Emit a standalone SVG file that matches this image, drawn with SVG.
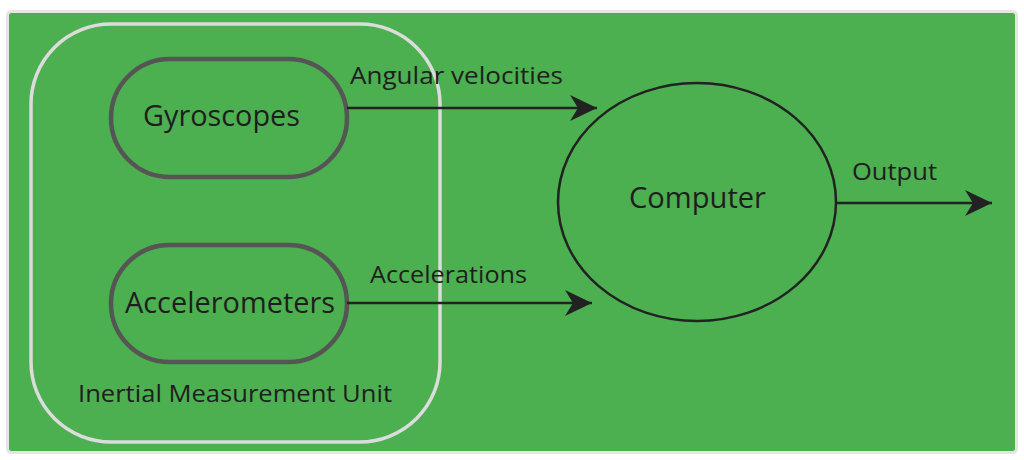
<svg xmlns="http://www.w3.org/2000/svg" width="1024" height="460" viewBox="0 0 1024 460">
  <defs>
    <marker id="stealth" viewBox="0 0 28 26" refX="27" refY="13" markerWidth="28" markerHeight="26" markerUnits="userSpaceOnUse" orient="auto">
      <path d="M27,13 L0,0 L8,13 L0,26 Z" fill="#222"/>
    </marker>
    <style>
      .txt { font-family: "Open Sans", "DejaVu Sans", sans-serif; fill: #1e1e1e; }
      .lbl { font-size: 24px; }
      .big { font-size: 29px; }
      .pill { fill: none; stroke: #555; stroke-width: 4.5; }
      .conn { stroke: #222; stroke-width: 2.5; fill: none; marker-end: url(#stealth); }
    </style>
  </defs>
  <rect x="0" y="0" width="1024" height="460" fill="#ffffff"/>
  <rect x="7.5" y="11.5" width="1009" height="441" rx="4" fill="#4caf50" stroke="#e3e6e3" stroke-width="3"/>

  <g id="imu">
    <rect x="31" y="24" width="409" height="418" rx="80" fill="none" stroke="#dcdcdc" stroke-width="3.5"/>
    <text class="txt lbl" x="78" y="402" textLength="314" lengthAdjust="spacingAndGlyphs">Inertial Measurement Unit</text>
  </g>

  <g id="gyroscopes">
    <rect x="111" y="59" width="236" height="118" rx="59" class="pill"/>
    <text class="txt big" x="143" y="126" textLength="157" lengthAdjust="spacingAndGlyphs">Gyroscopes</text>
  </g>

  <g id="accelerometers">
    <rect x="111" y="245" width="236" height="117" rx="58.5" class="pill"/>
    <text class="txt big" x="125" y="313" textLength="210" lengthAdjust="spacingAndGlyphs">Accelerometers</text>
  </g>

  <g id="computer">
    <ellipse cx="697" cy="202" rx="139" ry="119" fill="none" stroke="#222" stroke-width="2.5"/>
    <text class="txt big" x="629" y="208" textLength="137" lengthAdjust="spacingAndGlyphs">Computer</text>
  </g>

  <g id="connectors">
    <line x1="347" y1="108" x2="597" y2="108" class="conn"/>
    <line x1="347" y1="303" x2="592" y2="303" class="conn"/>
    <line x1="836" y1="203" x2="992" y2="203" class="conn"/>
    <text class="txt lbl" x="350" y="84" textLength="213" lengthAdjust="spacingAndGlyphs">Angular velocities</text>
    <text class="txt lbl" x="370" y="283" textLength="157" lengthAdjust="spacingAndGlyphs">Accelerations</text>
    <text class="txt lbl" x="852" y="180" textLength="85" lengthAdjust="spacingAndGlyphs">Output</text>
  </g>
</svg>
